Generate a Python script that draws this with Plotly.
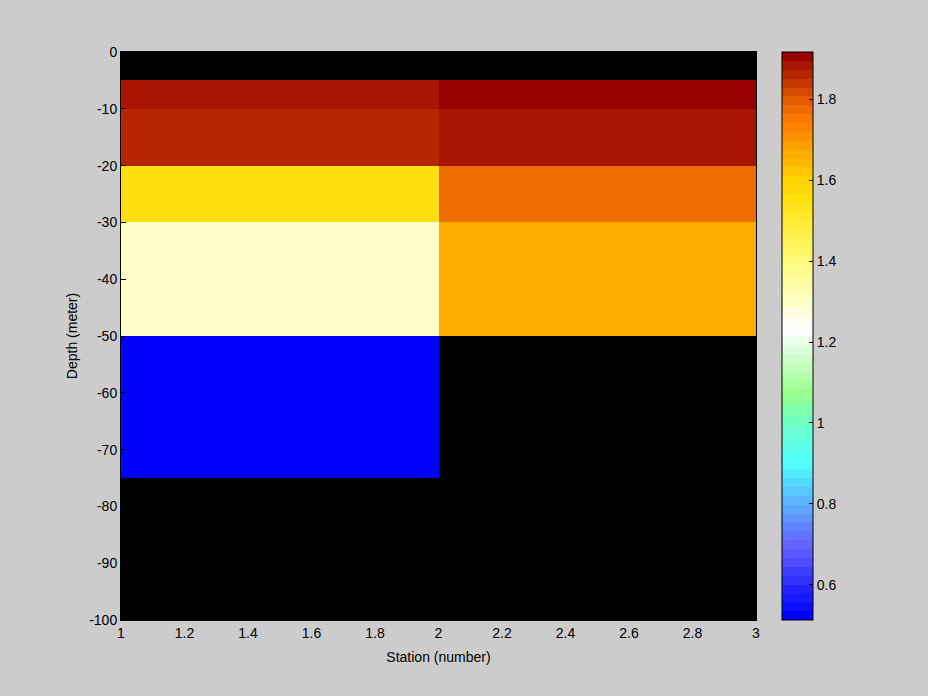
import numpy as np
import plotly.graph_objects as go

# ---- data ----
station_edges = [1, 2, 3]
depth_edges = [0, -5, -10, -20, -30, -50, -75, -100]
# rows: depth layers (top to bottom); cols: station 1-2, 2-3
station1_values = [None, 1.89, 1.87, 1.55, 1.30, 0.513, None]
station2_values = [None, 1.917, 1.89, 1.77, 1.67, None, None]
cmin, cmax = 0.513, 1.917
x_ticks = [1, 1.2, 1.4, 1.6, 1.8, 2, 2.2, 2.4, 2.6, 2.8, 3]
y_ticks = [0, -10, -20, -30, -40, -50, -60, -70, -80, -90, -100]
cb_ticks = [0.6, 0.8, 1.0, 1.2, 1.4, 1.6, 1.8]
cb_labels = ["0.6", "0.8", "1", "1.2", "1.4", "1.6", "1.8"]

z = [[a, b] for a, b in zip(station1_values, station2_values)]

# ---- colormap: 64 discrete levels built from anchor colours (value, rgb) ----
anchors = [
    (0.513, (0, 0, 255)),
    (0.60, (40, 40, 255)),
    (0.66, (80, 80, 255)),
    (0.70, (100, 100, 255)),
    (0.76, (95, 145, 255)),
    (0.82, (90, 190, 255)),
    (0.90, (80, 255, 255)),
    (1.00, (110, 255, 200)),
    (1.07, (150, 255, 140)),
    (1.15, (200, 255, 195)),
    (1.23, (255, 255, 255)),
    (1.30, (255, 255, 200)),
    (1.40, (255, 250, 120)),
    (1.50, (255, 235, 50)),
    (1.55, (255, 224, 16)),
    (1.60, (255, 210, 0)),
    (1.67, (255, 170, 0)),
    (1.74, (255, 125, 0)),
    (1.77, (240, 112, 0)),
    (1.80, (225, 90, 0)),
    (1.87, (176, 30, 0)),
    (1.917, (150, 0, 0)),
]
ap = [(a[0] - cmin) / (cmax - cmin) for a in anchors]
ar = [a[1][0] for a in anchors]
ag = [a[1][1] for a in anchors]
ab = [a[1][2] for a in anchors]
N = 64
colorscale = []
for i in range(N):
    f = (i + 0.5) / N
    if i == 0:
        f = 0.0
    if i == N - 1:
        f = 1.0
    r = int(round(np.interp(f, ap, ar)))
    g = int(round(np.interp(f, ap, ag)))
    b = int(round(np.interp(f, ap, ab)))
    c = f"rgb({r},{g},{b})"
    colorscale.append([i / N, c])
    colorscale.append([(i + 1) / N, c])

font = dict(family="Liberation Sans, Arial, sans-serif", size=14, color="black")

W, H = 928, 696
ML, MR, MT, MB = 121, 80, 52, 76
plot_w = W - ML - MR
main_right = 756
cb_left = 782
x_dom_end = (main_right - ML) / plot_w
cb_x = (cb_left - ML) / plot_w

fig = go.Figure()
fig.add_trace(go.Heatmap(
    x=station_edges, y=depth_edges, z=z,
    zmin=cmin, zmax=cmax, colorscale=colorscale,
    hoverongaps=False,
    colorbar=dict(
        x=cb_x, xanchor="left", xpad=0, ypad=0,
        y=0.5, yanchor="middle", len=1, lenmode="fraction",
        thickness=31, outlinewidth=1, outlinecolor="black",
        tickvals=cb_ticks, ticktext=cb_labels,
        ticks="inside", ticklen=4, tickcolor="black",
        tickfont=font,
    ),
))
# invisible trace on helper axis for left-side colorbar ticks
fig.add_trace(go.Scatter(x=[None], y=[None], yaxis="y2", showlegend=False, hoverinfo="skip"))

fig.update_layout(
    width=W, height=H,
    margin=dict(l=ML, r=MR, t=MT, b=MB),
    paper_bgcolor="#cccccc", plot_bgcolor="black",
    font=font,
    showlegend=False,
    xaxis=dict(
        domain=[0, x_dom_end],
        range=[1, 3], tickvals=x_ticks, ticktext=[f"{v:g}" for v in x_ticks],
        showgrid=False, zeroline=False, showline=True, linecolor="black", mirror=True,
        ticks="inside", ticklen=5, tickcolor="black",
        title=dict(text="Station (number)", font=font, standoff=12),
    ),
    yaxis=dict(
        range=[-100, 0], tickvals=y_ticks, ticktext=[f"{v:g}" for v in y_ticks],
        showgrid=False, zeroline=False, showline=True, linecolor="black", mirror=True,
        ticks="inside", ticklen=5, tickcolor="black",
        title=dict(text="Depth (meter)", font=font, standoff=8),
    ),
    yaxis2=dict(
        range=[cmin, cmax], overlaying="y", anchor="free", position=cb_x, side="left",
        tickvals=cb_ticks, ticks="inside", ticklen=4, tickcolor="black",
        showticklabels=False, showgrid=False, zeroline=False, showline=False,
    ),
)

fig.write_html(
    "out.html",
    config={"displayModeBar": False},
    post_script="document.body.style.margin='0';document.body.style.background='#cccccc';",
)
